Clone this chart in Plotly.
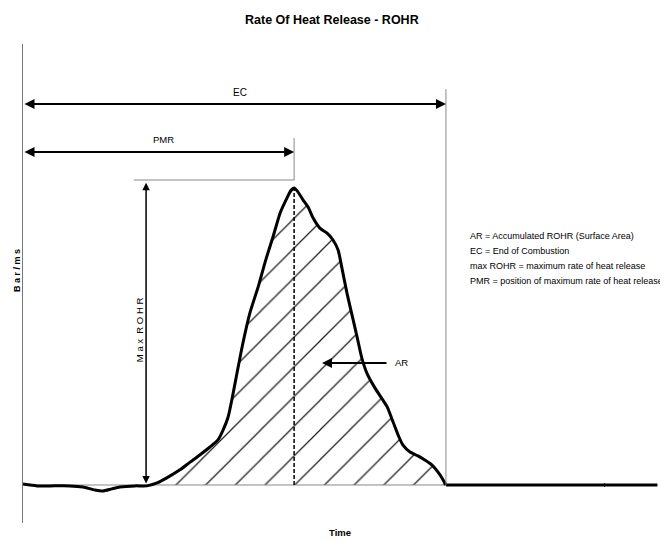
import plotly.graph_objects as go

# ---- data (time units: EC = 100, ROHR units: max = 100) ----
time = [0, 3.3, 6.4, 11.1, 14.2, 17.0, 18.9, 21.0, 22.9, 26.5, 29.3, 31.7, 34.0, 37.1,
        39.5, 41.8, 44.2, 46.1, 47.3, 48.5, 49.6, 50.6, 52.0, 53.7, 55.6, 57.4, 59.1,
        60.8, 62.4, 63.4, 64.1, 65.0, 66.2, 67.4, 68.6, 70.2, 71.9, 73.3, 74.5, 75.4,
        76.6, 77.8, 79.0, 80.1, 81.3, 83.2, 86.1, 87.5, 88.7, 89.8, 91.5, 93.4, 95.0,
        96.7, 98.6, 100.0]
rohr = [0.3, -0.3, -0.3, -0.3, -0.7, -1.7, -2.0, -1.3, -0.7, -0.3, -0.3, 0.7, 2.4, 5.1,
        7.7, 10.1, 12.8, 15.2, 18.5, 22.9, 30.3, 37.7, 47.8, 58.2, 66.7, 75.8, 83.5,
        91.6, 96.6, 99.3, 100.0, 98.7, 96.0, 93.6, 89.9, 86.5, 84.8, 82.5, 79.1, 73.1,
        64.6, 57.2, 49.8, 42.8, 37.7, 32.7, 26.3, 21.2, 16.8, 13.5, 11.1, 9.8, 8.4,
        6.7, 3.4, 0.0]
after_time = [100.0, 150.0]
after_rohr = [0.0, 0.0]

pmr_time = 64.1      # position of maximum rate of heat release
ec_time = 100.0      # end of combustion
max_rohr = 100.0
combustion_start = 29.3

legend_lines = [
    "AR = Accumulated ROHR (Surface Area)",
    "EC = End of Combustion",
    "max ROHR = maximum rate of heat release",
    "PMR = position of maximum rate of heat release",
]

FONT = "Liberation Sans, Arial, sans-serif"

fig = go.Figure()

# hatched accumulated area (AR)
fx = [t for t in time if combustion_start <= t <= ec_time]
fy = [r for t, r in zip(time, rohr) if combustion_start <= t <= ec_time]
fig.add_trace(go.Scatter(
    x=fx, y=fy, mode="lines", line=dict(width=0, color="black", shape="spline", smoothing=0.6),
    fill="tozeroy", fillcolor="rgba(255,255,255,0)",
    fillpattern=dict(shape="/", fgcolor="#202020", bgcolor="rgba(255,255,255,0)",
                     fgopacity=1, size=21, solidity=0.06),
    hoverinfo="skip", showlegend=False))

# thin baseline under the area
fig.add_trace(go.Scatter(x=[0, ec_time], y=[0, 0], mode="lines",
                         line=dict(color="#888888", width=1), showlegend=False))

# ROHR curve
fig.add_trace(go.Scatter(x=time, y=rohr, mode="lines",
                         line=dict(color="black", width=3, shape="spline", smoothing=0.6),
                         showlegend=False))
fig.add_trace(go.Scatter(x=after_time, y=after_rohr, mode="lines",
                         line=dict(color="black", width=3), showlegend=False))

# dashed line at PMR
fig.add_trace(go.Scatter(x=[pmr_time, pmr_time], y=[0, max_rohr], mode="lines",
                         line=dict(color="black", width=1.5, dash="4px,2px"), showlegend=False))

# thin guide lines
fig.add_trace(go.Scatter(x=[26.2, pmr_time, pmr_time], y=[102.7, 102.7, 116.8], mode="lines",
                         line=dict(color="#888888", width=1), showlegend=False))
fig.add_trace(go.Scatter(x=[ec_time, ec_time], y=[0, 133.3], mode="lines",
                         line=dict(color="#888888", width=1), showlegend=False))

# small tick on the right baseline
fig.add_trace(go.Scatter(x=[137.5, 137.5], y=[-0.6, 0.6], mode="lines",
                         line=dict(color="black", width=1), showlegend=False))

annotations = []

def darrow(x0, y0, x1, y1, width=2):
    annotations.append(dict(x=x1, y=y1, ax=x0, ay=y0, xref="x", yref="y",
                            axref="x", ayref="y", text="", showarrow=True,
                            arrowhead=2, arrowsize=1, arrowwidth=width,
                            arrowside="end+start", arrowcolor="black",
                            standoff=0, startstandoff=0))

darrow(0, 128.3, ec_time, 128.3)
darrow(0, 112.1, pmr_time, 112.1)
darrow(29.1, 0, 29.1, 101.8, width=1.5)

# AR arrow
annotations.append(dict(x=70.7, y=41.1, ax=86.3, ay=41.1, xref="x", yref="y",
                        axref="x", ayref="y", text="", showarrow=True,
                        arrowhead=2, arrowsize=1, arrowwidth=2, arrowcolor="black",
                        standoff=0))

def label(x, y, text, size=10, **kw):
    d = dict(x=x, y=y, xref="x", yref="y", text=text, showarrow=False,
             font=dict(family=FONT, size=size, color="black"))
    d.update(kw)
    annotations.append(d)

label(51.3, 132.3, "EC", size=10)
label(33.1, 116.2, "PMR", size=9.5)
label(87.5, 41.1, "AR", size=9.5, xanchor="left")
label(27.7, 52.2, "M a x  R O H R", size=9.5, textangle=-90)

fig.update_layout(annotations=annotations)

# page offset of the figure inside the browser window (default body margin)
OFF = 8

# legend text block (one line each, window pixel positions converted below)
for i, line in enumerate(legend_lines):
    fig.add_annotation(x=468, y=236 + 15 * i, xref="paper", yref="paper", text=line,
                       showarrow=False, xanchor="left", yanchor="middle",
                       font=dict(family=FONT, size=9, color="black"))

fig.add_annotation(x=332, y=20, xref="paper", yref="paper", text="<b>Rate Of Heat Release - ROHR</b>",
                   showarrow=False, xanchor="center", yanchor="middle",
                   font=dict(family=FONT, size=12.5, color="black"))
fig.add_annotation(x=340, y=532, xref="paper", yref="paper", text="<b>Time</b>",
                   showarrow=False, xanchor="center", yanchor="middle",
                   font=dict(family=FONT, size=9.5, color="black"))
fig.add_annotation(x=17, y=271, xref="paper", yref="paper", text="<b>B a r / m s</b>",
                   showarrow=False, textangle=-90, xanchor="center", yanchor="middle",
                   font=dict(family=FONT, size=9, color="black"))

W, H = 668 - OFF, 541 - OFF
L, R, T, B = 23 - OFF, 0, 44 - OFF, 18

fig.update_layout(
    width=W, height=H,
    margin=dict(l=L, r=R, t=T, b=B, pad=0),
    paper_bgcolor="white", plot_bgcolor="white",
    xaxis=dict(range=[0, 152.5], showgrid=False, zeroline=False, showticklabels=False,
               ticks="", showline=False, fixedrange=True),
    yaxis=dict(range=[-12.8, 148.5], showgrid=False, zeroline=False, showticklabels=False,
               ticks="", showline=True, linecolor="#777777", linewidth=1, fixedrange=True),
    showlegend=False,
)

# convert paper annotations given in window pixel coordinates to paper fractions
pw, ph = W - L - R, H - T - B
for a in fig.layout.annotations:
    if a.xref == "paper":
        a.x = (a.x - OFF - L) / pw
        a.y = 1 - (a.y - OFF - T) / ph

fig.write_html("out.html")
